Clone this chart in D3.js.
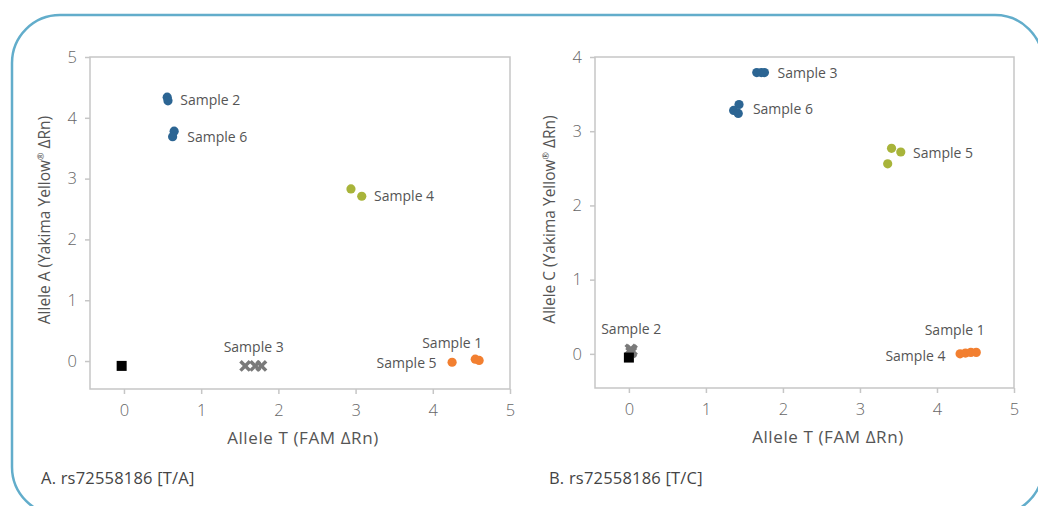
<!DOCTYPE html>
<html>
<head>
<meta charset="utf-8">
<script src="https://cdn.jsdelivr.net/npm/d3@7"></script>
<style>
  body { margin: 0; background: #fff; }
  svg { display: block; font-family: "Open Sans", Lato, sans-serif; }
</style>
</head>
<body>
<svg id="chart" width="1038" height="506"></svg>
<script>
// ---- data ----
const xTicks = [0, 1, 2, 3, 4, 5];
const yTicksA = [0, 1, 2, 3, 4, 5];
const yTicksB = [0, 1, 2, 3, 4];

// panel A: rs72558186 [T/A]
const pointsA = [
  {x: 0.56, y: 4.34, g: 'blue'}, {x: 0.57, y: 4.28, g: 'blue'},
  {x: 0.65, y: 3.78, g: 'blue'}, {x: 0.63, y: 3.69, g: 'blue'},
  {x: 2.94, y: 2.83, g: 'olive'}, {x: 3.08, y: 2.71, g: 'olive'},
  {x: 1.57, y: -0.08, g: 'x'}, {x: 1.70, y: -0.08, g: 'x'}, {x: 1.78, y: -0.08, g: 'x'},
  {x: 4.55, y: 0.03, g: 'orange'}, {x: 4.60, y: 0.01, g: 'orange'},
  {x: 4.25, y: -0.02, g: 'orange'},
  {x: -0.03, y: -0.08, g: 'ntc'}
];
const labelsA = [
  {text: 'Sample 2', x: 0.73, y: 4.29, anchor: 'start'},
  {text: 'Sample 6', x: 0.82, y: 3.69, anchor: 'start'},
  {text: 'Sample 4', x: 3.24, y: 2.72, anchor: 'start'},
  {text: 'Sample 3', x: 1.68, y: 0.23, anchor: 'middle'},
  {text: 'Sample 1', x: 4.64, y: 0.30, anchor: 'end'},
  {text: 'Sample 5', x: 4.05, y: -0.03, anchor: 'end'}
];

// panel B: rs72558186 [T/C]
const pointsB = [
  {x: 1.66, y: 3.79, g: 'blue'}, {x: 1.72, y: 3.79, g: 'blue'}, {x: 1.76, y: 3.79, g: 'blue'},
  {x: 1.43, y: 3.36, g: 'blue'}, {x: 1.36, y: 3.28, g: 'blue'}, {x: 1.42, y: 3.24, g: 'blue'},
  {x: 3.41, y: 2.77, g: 'olive'}, {x: 3.53, y: 2.72, g: 'olive'}, {x: 3.36, y: 2.56, g: 'olive'},
  {x: 4.30, y: 0.00, g: 'orange'}, {x: 4.37, y: 0.01, g: 'orange'},
  {x: 4.44, y: 0.02, g: 'orange'}, {x: 4.51, y: 0.02, g: 'orange'},
  {x: 0.02, y: 0.06, g: 'x'}, {x: 0.03, y: 0.02, g: 'x'}, {x: 0.04, y: 0.05, g: 'x'},
  {x: 0.00, y: -0.05, g: 'ntc'}
];
const labelsB = [
  {text: 'Sample 3', x: 1.93, y: 3.78, anchor: 'start'},
  {text: 'Sample 6', x: 1.61, y: 3.30, anchor: 'start'},
  {text: 'Sample 5', x: 3.69, y: 2.70, anchor: 'start'},
  {text: 'Sample 2', x: 0.03, y: 0.33, anchor: 'middle'},
  {text: 'Sample 1', x: 4.62, y: 0.32, anchor: 'end'},
  {text: 'Sample 4', x: 4.11, y: -0.03, anchor: 'end'}
];

const colors = {blue: '#2c6593', olive: '#a8b43a', orange: '#f27f30', x: '#7a7a7a', ntc: '#000'};

const svg = d3.select('#chart');

// rounded outer frame
svg.append('rect')
  .attr('x', 12).attr('y', 15)
  .attr('width', 1031).attr('height', 500)
  .attr('rx', 48).attr('ry', 48)
  .style('fill', 'none')
  .style('stroke', '#62adcb')
  .style('stroke-width', 2.5);

function drawPanel(opt) {
  const x = d3.scaleLinear().domain([-0.44, 5]).range([opt.left, opt.right]);
  const y = d3.scaleLinear().domain([opt.yMin, opt.yMax]).range([opt.bottom, opt.top]);
  const g = svg.append('g');

  // plot border
  g.append('rect')
    .attr('x', opt.left).attr('y', opt.top)
    .attr('width', opt.right - opt.left).attr('height', opt.bottom - opt.top)
    .style('fill', 'none').style('stroke', '#c6c6c6').style('stroke-width', 1.5);

  // axes
  const xAxis = g.append('g').attr('transform', 'translate(0,' + opt.bottom + ')')
    .call(d3.axisBottom(x).tickValues(xTicks).tickFormat(d3.format('d')).tickSize(5).tickPadding(10));
  const yAxis = g.append('g').attr('transform', 'translate(' + opt.left + ',0)')
    .call(d3.axisLeft(y).tickValues(opt.yTicks).tickFormat(d3.format('d')).tickSize(5).tickPadding(8));
  [xAxis, yAxis].forEach(function(a) {
    a.select('.domain').remove();
    a.selectAll('line').style('stroke', '#c6c6c6').style('stroke-width', 1.5);
    a.selectAll('text').style('font-size', '16.5px').style('fill', '#666666')
      .style('font-family', '"Open Sans", sans-serif').style('font-weight', 300);
  });

  // axis titles
  g.append('text')
    .attr('x', opt.titleX).attr('y', opt.bottom + 55)
    .attr('text-anchor', 'middle')
    .style('font-size', '17px').style('fill', '#555')
    .style('letter-spacing', '0.6px')
    .text('Allele T (FAM ΔRn)');
  const yt = g.append('text')
    .attr('transform', 'translate(' + (opt.left - 40) + ',' + ((opt.top + opt.bottom) / 2 - 3) + ') rotate(-90)')
    .attr('text-anchor', 'middle')
    .style('font-size', '15.5px').style('fill', '#555');
  yt.append('tspan').text('Allele ' + opt.allele + ' (Yakima Yellow');
  yt.append('tspan').text('®').attr('baseline-shift', 'super').style('font-size', '9px');
  yt.append('tspan').text(' ΔRn)');

  // marks
  const circles = opt.points.filter(function(d) { return d.g !== 'x' && d.g !== 'ntc'; });
  g.selectAll('circle.pt').data(circles).enter().append('circle')
    .attr('class', 'pt')
    .attr('cx', function(d) { return x(d.x); })
    .attr('cy', function(d) { return y(d.y); })
    .attr('r', 4.6)
    .style('fill', function(d) { return colors[d.g]; });

  const cross = d3.symbol().type(d3.symbolX).size(60);
  g.selectAll('path.xm').data(opt.points.filter(function(d) { return d.g === 'x'; }))
    .enter().append('path')
    .attr('class', 'xm')
    .attr('d', cross)
    .attr('transform', function(d) { return 'translate(' + x(d.x) + ',' + y(d.y) + ')'; })
    .style('fill', 'none').style('stroke', colors.x).style('stroke-width', 3.5);

  g.selectAll('rect.ntc').data(opt.points.filter(function(d) { return d.g === 'ntc'; }))
    .enter().append('rect')
    .attr('class', 'ntc')
    .attr('x', function(d) { return x(d.x) - 5; })
    .attr('y', function(d) { return y(d.y) - 5; })
    .attr('width', 10).attr('height', 10)
    .style('fill', colors.ntc);

  // sample labels
  g.selectAll('text.lbl').data(opt.labels).enter().append('text')
    .attr('class', 'lbl')
    .attr('x', function(d) { return x(d.x); })
    .attr('y', function(d) { return y(d.y); })
    .attr('dy', '0.35em')
    .attr('text-anchor', function(d) { return d.anchor; })
    .style('font-size', '14px').style('fill', '#555')
    .text(function(d) { return d.text; });

  // caption
  svg.append('text')
    .attr('x', opt.captionX).attr('y', 484)
    .style('font-size', '16.5px').style('fill', '#444')
    .style('letter-spacing', '0.2px')
    .text(opt.caption);
}

drawPanel({
  left: 90, right: 510, top: 57, bottom: 389,
  yMin: -0.46, yMax: 5, yTicks: yTicksA, allele: 'A',
  points: pointsA, labels: labelsA, titleX: 303,
  caption: 'A. rs72558186 [T/A]', captionX: 41
});
drawPanel({
  left: 595, right: 1014, top: 57, bottom: 388,
  yMin: -0.46, yMax: 4, yTicks: yTicksB, allele: 'C',
  points: pointsB, labels: labelsB, titleX: 828,
  caption: 'B. rs72558186 [T/C]', captionX: 549
});
</script>
</body>
</html>
